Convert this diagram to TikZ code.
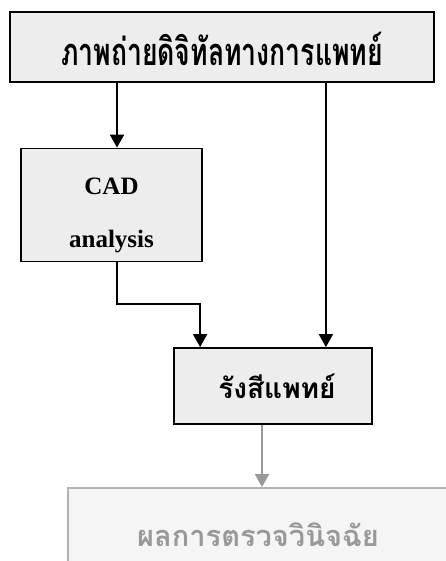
\documentclass[tikz,border=0pt]{standalone}
\usepackage{fontspec}
\setmainfont{Liberation Serif}
\newfontfamily\thaifont[Script=Thai]{Loma}
\newfontfamily\thaicond[Script=Thai,FakeStretch=0.70]{Loma}
\usetikzlibrary{arrows.meta}

% text set on a baseline at a given distance below the node centre
\newcommand{\lowtext}[2]{\raisebox{-#1}[0pt][0pt]{#2}}

\tikzset{
  box/.style={draw,line width=1.8pt,fill=black!7,inner sep=0pt},
  graybox/.style={draw=black!30,line width=1.8pt,fill=black!4,inner sep=0pt,text=black!40},
  arr/.style={line width=2pt,-{Triangle[width=14pt,length=13pt]}},
  grayarr/.style={arr,draw=black!40,fill=black!40}
}

\begin{document}
\begin{tikzpicture}[x=1pt,y=-1pt]
\useasboundingbox (0,0) rectangle (446,561);
% boxes
\node[box,minimum width=424pt,minimum height=70pt,
  font=\thaicond\bfseries\fontsize{38}{40}\selectfont] (img) at (222,47)
  {\lowtext{19pt}{ภาพถ่ายดิจิทัลทางการแพทย์}};
\node[box,minimum width=181pt,minimum height=113pt,
  font=\bfseries\fontsize{25}{27}\selectfont] (cad) at (111.5,205)
  {\makebox[0pt]{\lowtext{-10pt}{CAD}}\makebox[0pt]{\lowtext{42pt}{analysis}}};
\node[box,minimum width=198pt,minimum height=76pt,
  font=\thaifont\bfseries\fontsize{28}{30}\selectfont] (rad) at (273,386)
  {\hspace*{8pt}\lowtext{12pt}{รังสีแพทย์}};
\node[graybox,minimum width=392pt,minimum height=90pt,
  font=\thaifont\bfseries\fontsize{29}{30}\selectfont] (res) at (264,533)
  {\lowtext{13pt}{ผลการตรวจวินิจฉัย}\hspace*{12pt}};
% connectors
\coordinate (cadin) at ([xshift=5.5pt]cad.north);
\coordinate (cadout) at ([xshift=5.5pt]cad.south);
\coordinate (radin1) at ([xshift=27pt]rad.north west);
\coordinate (radin2) at ([xshift=-47pt]rad.north east);
\coordinate (radout) at ([xshift=-11pt]rad.south);
\draw[arr] (img.south -| cadin) -- (cadin);
\draw[arr] (img.south -| radin2) -- (radin2);
\draw[arr] (cadout) |- ([yshift=43pt]radin1) -- (radin1);
\draw[grayarr] (radout) -- (radout |- res.north);
\end{tikzpicture}
\end{document}
